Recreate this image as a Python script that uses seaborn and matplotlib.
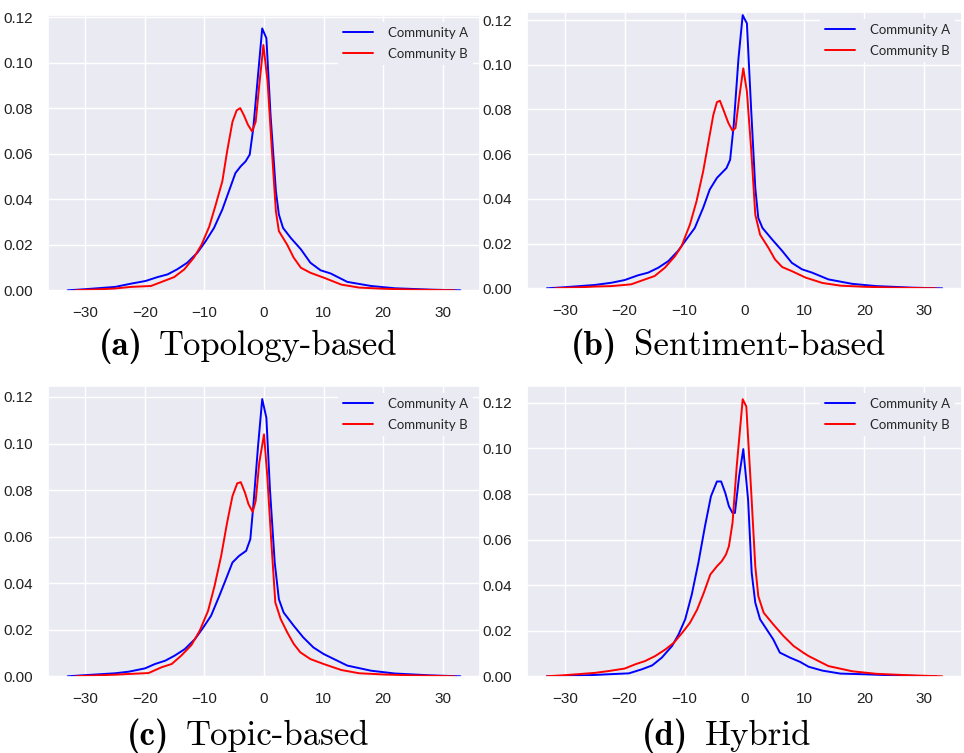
import matplotlib.pyplot as plt
import pandas as pd
import seaborn as sns
from matplotlib.offsetbox import TextArea, HPacker, AnnotationBbox

sns.set_theme(style='darkgrid')
plt.rcParams['font.family'] = ['Liberation Sans', 'DejaVu Sans']

# (a) Topology-based
a_x_a = [-33, -30, -25, -22.4, -19.9, -17.9, -16.2, -14.6, -12.9, -11.2, -9.8, -8.4, -7.0, -5.9,
         -4.8, -3.9, -3.1, -2.4, -1.8, -1.1, -0.3, 0.4, 1.1, 2.0, 2.5, 3.2, 4.5, 6.2, 7.8, 9.5,
         11.2, 14, 18, 22, 28, 33]
a_y_a = [0, 0.0005, 0.0015, 0.0029, 0.0041, 0.0058, 0.007, 0.0092, 0.0121, 0.0165, 0.0216,
         0.0274, 0.0355, 0.0435, 0.0515, 0.0545, 0.0566, 0.0596, 0.0712, 0.0917, 0.115, 0.1107,
         0.077, 0.0435, 0.0333, 0.0274, 0.023, 0.018, 0.0121, 0.0088, 0.0074, 0.0037, 0.0019,
         0.0009, 0.0003, 0]
a_x_b = [-31.7, -28, -25, -22.4, -19, -16.8, -15.1, -13.4, -11.8, -10.5, -9.2, -8.1, -7.0, -6.2,
         -5.3, -4.6, -4.0, -3.4, -2.7, -2.0, -1.4, -0.8, -0.1, 0.6, 1.3, 2.0, 2.5, 3.9, 5.0, 6.2,
         7.8, 10.1, 13, 16, 20, 25, 32]
a_y_b = [0, 0.0004, 0.0008, 0.0015, 0.0019, 0.0041, 0.0058, 0.0092, 0.0143, 0.020, 0.028, 0.0377,
         0.0479, 0.061, 0.074, 0.079, 0.080, 0.077, 0.0727, 0.0698, 0.074, 0.090, 0.1077, 0.0917,
         0.0625, 0.0347, 0.026, 0.020, 0.0143, 0.0099, 0.0077, 0.0055, 0.0025, 0.0012, 0.0007,
         0.0003, 0]

# (b) Sentiment-based
b_x_a = [-33, -30, -25, -22.2, -20, -17.8, -16.1, -14.4, -12.7, -11.1, -9.7, -8.3, -6.9, -5.8,
         -4.6, -3.8, -3.0, -2.4, -1.8, -1.0, -0.3, 0.4, 1.1, 1.8, 2.3, 3.0, 4.6, 6.3, 7.9, 9.6,
         11.3, 14, 18, 22, 28, 33]
b_y_a = [0, 0.0005, 0.0015, 0.0025, 0.0037, 0.0058, 0.007, 0.0092, 0.0122, 0.0167, 0.0219,
         0.027, 0.036, 0.0442, 0.0494, 0.0516, 0.0538, 0.0575, 0.073, 0.103, 0.1222, 0.1185,
         0.0806, 0.0449, 0.0315, 0.027, 0.0219, 0.0167, 0.0114, 0.0085, 0.007, 0.004, 0.002,
         0.001, 0.0003, 0]
b_x_b = [-31.7, -28, -25, -22.2, -18.9, -16.6, -15.0, -13.3, -11.6, -10.5, -9.1, -8.0, -6.9, -6.0,
         -5.2, -4.6, -4.1, -3.4, -2.7, -2.0, -1.5, -0.9, -0.2, 0.4, 1.1, 1.8, 2.6, 4.0, 5.1, 6.3,
         7.9, 10.2, 13, 16, 20, 25, 32]
b_y_b = [0, 0.0004, 0.0008, 0.001, 0.0018, 0.004, 0.0055, 0.0092, 0.0144, 0.0189, 0.0286, 0.039,
         0.0523, 0.0657, 0.0776, 0.0833, 0.0839, 0.079, 0.074, 0.0705, 0.0717, 0.085, 0.0984,
         0.088, 0.0627, 0.033, 0.024, 0.0181, 0.0129, 0.0095, 0.0077, 0.0048, 0.0024, 0.0012,
         0.0007, 0.0003, 0]

# (c) Topic-based
c_x_a = [-33, -30, -25, -22.7, -20, -18.3, -16.6, -15, -13.3, -11.6, -10.2, -8.9, -7.5, -6.4,
         -5.3, -4.2, -3.0, -2.3, -1.8, -1.0, -0.3, 0.4, 1.0, 1.8, 2.5, 3.3, 5.0, 6.6, 8.3, 10,
         14, 18, 22, 28, 33]
c_y_a = [0, 0.0005, 0.0013, 0.002, 0.0034, 0.0053, 0.0067, 0.0089, 0.0117, 0.016, 0.021, 0.026,
         0.0346, 0.0417, 0.0489, 0.0517, 0.0539, 0.0589, 0.0731, 0.0989, 0.1191, 0.111, 0.0803,
         0.0489, 0.0331, 0.0274, 0.0217, 0.0167, 0.0124, 0.0096, 0.0046, 0.0024, 0.0012,
         0.0004, 0]
c_x_b = [-31.7, -28, -25, -22.7, -19.4, -17.2, -15.5, -13.9, -12.2, -10.8, -9.4, -8.3, -7.2, -6.2,
         -5.3, -4.5, -3.9, -3.2, -2.6, -1.9, -1.4, -0.8, 0, 0.55, 1.2, 1.9, 2.8, 3.9, 5.0, 6.1,
         7.8, 10, 13, 16, 20, 25, 32]
c_y_b = [0, 0.0004, 0.0007, 0.001, 0.0014, 0.0039, 0.0053, 0.0089, 0.0134, 0.0196, 0.0281,
         0.0389, 0.0517, 0.066, 0.0774, 0.0829, 0.0834, 0.0789, 0.0739, 0.0706, 0.0753, 0.0917,
         0.1039, 0.086, 0.0589, 0.0317, 0.0246, 0.0189, 0.0139, 0.0103, 0.0074, 0.0053, 0.0027,
         0.0013, 0.0008, 0.0004, 0]

# (d) Hybrid
d_x_a = [-33, -28, -25, -22.7, -19.3, -17.1, -15.4, -13.8, -12.1, -11, -9.9, -8.8, -7.7, -6.6,
         -5.6, -4.6, -3.9, -3.2, -2.6, -2.0, -1.6, -0.9, -0.2, 0.6, 1.2, 1.8, 2.6, 3.7, 4.8, 5.9,
         7.6, 9.3, 10.7, 13, 16, 20, 25, 32]
d_y_a = [0, 0.0003, 0.0006, 0.0009, 0.0013, 0.0031, 0.0048, 0.0082, 0.0133, 0.0184, 0.025,
         0.0359, 0.0498, 0.0658, 0.079, 0.0855, 0.0855, 0.0804, 0.0746, 0.0717, 0.0717, 0.0877,
         0.0997, 0.0775, 0.0454, 0.0323, 0.025, 0.0206, 0.0162, 0.0104, 0.0082, 0.0063, 0.0042,
         0.0025, 0.0012, 0.0009, 0.0004, 0]
d_x_b = [-33, -30, -25, -22.7, -20, -18.2, -16.6, -14.9, -13.2, -11.8, -10.4, -9.1, -7.9, -6.8,
         -5.7, -4.6, -3.8, -3.1, -2.6, -2.0, -1.3, -0.3, 0.3, 1.1, 1.8, 2.3, 3.2, 4.8, 6.5, 8.2,
         9.8, 10.7, 14, 18, 22, 28, 33]
d_y_b = [0, 0.0005, 0.0015, 0.0023, 0.0034, 0.0053, 0.0067, 0.0089, 0.0118, 0.0147, 0.0191,
         0.0235, 0.0293, 0.0366, 0.0447, 0.0483, 0.0505, 0.0534, 0.0571, 0.0673, 0.0921, 0.1216,
         0.1184, 0.0819, 0.0483, 0.0352, 0.0279, 0.0228, 0.0177, 0.0133, 0.0104, 0.0089, 0.0045,
         0.0022, 0.0011, 0.0004, 0]

caption_tags = ['(a)', '(b)', '(c)', '(d)']
caption_names = ['Topology-based', 'Sentiment-based', 'Topic-based', 'Hybrid']

panels = [
    (a_x_a, a_y_a, a_x_b, a_y_b),
    (b_x_a, b_y_a, b_x_b, b_y_b),
    (c_x_a, c_y_a, c_x_b, c_y_b),
    (d_x_a, d_y_a, d_x_b, d_y_b),
]

W, H = 964, 753
# axes boxes in pixels: left, top, right, bottom
boxes = [(48, 15, 480, 291), (527, 12, 962, 289), (48, 386, 480, 677), (527, 386, 962, 677)]
ylims = [(-0.0003, 0.1209), (-0.0003, 0.1236), (-0.0003, 0.1247), (-0.0003, 0.1274)]
cap_pos = [(248, 346), (728, 346), (248, 736), (727, 736)]

fig = plt.figure(figsize=(W / 100, H / 100), dpi=100)

for i, (xa, ya, xb, yb) in enumerate(panels):
    l, t, r, b = boxes[i]
    ax = fig.add_axes([l / W, 1 - b / H, (r - l) / W, (b - t) / H])
    df = pd.concat([
        pd.DataFrame({'x': xa, 'y': ya, 'group': 'Community A'}),
        pd.DataFrame({'x': xb, 'y': yb, 'group': 'Community B'}),
    ])
    sns.lineplot(data=df, x='x', y='y', hue='group', palette=['blue', 'red'],
                 sort=False, linewidth=1.4, ax=ax)
    ax.set_xlim(-36.3, 36.3)
    ax.set_ylim(*ylims[i])
    ax.set_xticks([-30, -20, -10, 0, 10, 20, 30])
    ax.set_xticklabels(['\u221230', '\u221220', '\u221210', '0', '10', '20', '30'])
    ax.set_yticks([0, 0.02, 0.04, 0.06, 0.08, 0.10, 0.12])
    ax.set_yticklabels(['0.00', '0.02', '0.04', '0.06', '0.08', '0.10', '0.12'])
    ax.tick_params(labelsize=11, colors='#222222', pad=5)
    ax.set_xlabel('')
    ax.set_ylabel('')
    leg = ax.legend(loc='upper right', frameon=True, facecolor='#EAEAF2', edgecolor='none',
                    framealpha=1, prop={'family': 'Lato', 'size': 9.5},
                    handlelength=2.3, handletextpad=1.1, labelspacing=0.7)
    for line in leg.get_lines():
        line.set_linewidth(1.4)

    # caption below each panel: bold tag + roman name
    tag = TextArea(caption_tags[i], textprops=dict(fontfamily='cmb10', fontsize=25, color='black'))
    name = TextArea(caption_names[i], textprops=dict(fontfamily='cmr10', fontsize=25, color='black'))
    pack = HPacker(children=[tag, name], sep=12, pad=0, align='baseline')
    cx, cy = cap_pos[i]
    ab = AnnotationBbox(pack, (cx / W, 1 - cy / H), xycoords='figure fraction',
                        frameon=False, box_alignment=(0.5, 0.5), pad=0)
    fig.add_artist(ab)

fig.savefig('out.png', dpi=100)
